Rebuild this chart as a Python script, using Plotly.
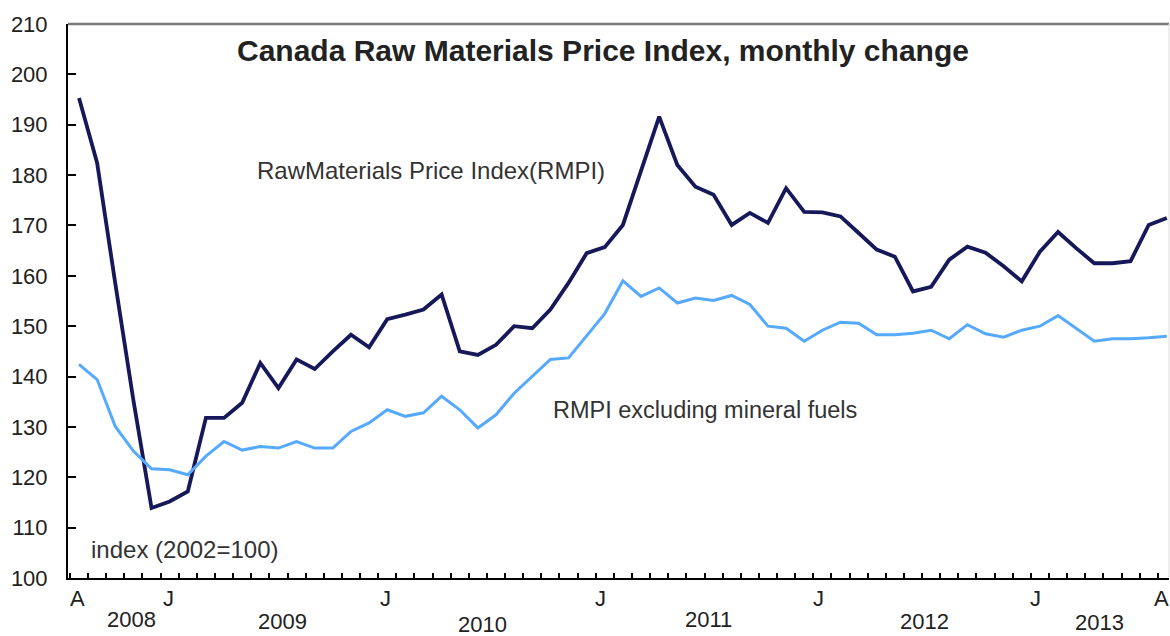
import plotly.graph_objects as go

# ---- data (month index 0..60) ----
month_index = list(range(61))
rmpi = [195.3, 182.4, 158.5, 135.3, 113.9, 115.2, 117.2, 131.8, 131.8, 134.8,
        142.7, 137.7, 143.4, 141.5, 145.0, 148.3, 145.8, 151.4, 152.3, 153.3,
        156.3, 145.0, 144.3, 146.3, 150.0, 149.6, 153.3, 158.6, 164.5, 165.7,
        170.1, 180.8, 191.6, 182.0, 177.7, 176.1, 170.1, 172.5, 170.5, 177.4,
        172.7, 172.6, 171.8, 168.5, 165.2, 163.8, 156.9, 157.8, 163.2, 165.8,
        164.6, 161.9, 158.9, 164.8, 168.7, 165.5, 162.5, 162.5, 162.9, 170.1, 171.5]
rmpi_ex_fuels = [142.4, 139.4, 130.1, 125.2, 121.7, 121.5, 120.5, 124.2, 127.1, 125.4,
                 126.1, 125.8, 127.1, 125.8, 125.8, 129.1, 130.8, 133.4, 132.1, 132.8,
                 136.1, 133.4, 129.8, 132.4, 136.7, 140.0, 143.4, 143.7, 148.0, 152.5,
                 159.0, 155.9, 157.6, 154.6, 155.6, 155.1, 156.1, 154.3, 150.0, 149.6,
                 147.0, 149.2, 150.8, 150.6, 148.3, 148.3, 148.6, 149.2, 147.5, 150.3,
                 148.5, 147.8, 149.2, 150.0, 152.1, 149.6, 147.0, 147.5, 147.5, 147.7, 148.0]

month_labels = ["A", "J", "J", "J", "J", "J", "A"]
month_label_at = [-0.08, 4.91, 16.88, 28.79, 40.76, 52.73, 59.73]
year_labels = ["2008", "2009", "2010", "2011", "2012", "2013"]
year_label_at = [2.87, 11.2, 22.28, 34.72, 46.61, 56.26]
year_label_drop = [41, 43, 46, 41, 43, 44]  # px below axis (style)

y_ticks = list(range(100, 211, 10))

FONT = "Liberation Sans, Arial, sans-serif"
DARK = "#16185a"
LIGHT = "#55aaff"

fig = go.Figure()
fig.add_trace(go.Scatter(x=month_index, y=rmpi, mode="lines",
                         line=dict(color=DARK, width=3.8), name="RMPI"))
fig.add_trace(go.Scatter(x=month_index, y=rmpi_ex_fuels, mode="lines",
                         line=dict(color=LIGHT, width=3), name="RMPI excluding mineral fuels"))

ann = []
for t, xv in zip(month_labels, month_label_at):
    ann.append(dict(x=xv, y=0, xref="x", yref="paper", text=t, showarrow=False,
                    yanchor="middle", yshift=-20, font=dict(family=FONT, size=22, color="#222")))
for t, xv, d in zip(year_labels, year_label_at, year_label_drop):
    ann.append(dict(x=xv, y=0, xref="x", yref="paper", text=t, showarrow=False,
                    yanchor="middle", yshift=-d, font=dict(family=FONT, size=22, color="#222")))

ann.append(dict(x=0.486, y=204.8, xref="paper", yref="y",
                text="<b>Canada Raw Materials Price Index, monthly change</b>",
                showarrow=False, font=dict(family=FONT, size=30, color="#222")))
ann.append(dict(x=19.4, y=181.0, xref="x", yref="y", text="RawMaterials Price Index(RMPI)",
                showarrow=False, font=dict(family=FONT, size=24, color="#333")))
ann.append(dict(x=34.5, y=133.4, xref="x", yref="y", text="RMPI excluding mineral fuels",
                showarrow=False, font=dict(family=FONT, size=23.5, color="#333")))
ann.append(dict(x=5.8, y=105.7, xref="x", yref="y", text="index (2002=100)",
                showarrow=False, font=dict(family=FONT, size=24, color="#333")))

fig.update_layout(
    width=1170, height=636,
    margin=dict(l=68, r=1, t=24, b=57.5),
    paper_bgcolor="white", plot_bgcolor="white",
    showlegend=False,
    annotations=ann,
    shapes=[
        dict(type="line", xref="paper", yref="paper", x0=0, x1=1, y0=1, y1=1,
             line=dict(color="#7a7a7a", width=2.5)),
        dict(type="line", xref="paper", yref="paper", x0=1, x1=1, y0=0, y1=1,
             line=dict(color="#dddddd", width=1)),
    ],
)
fig.update_xaxes(range=[-0.607, 60.12], showgrid=False, zeroline=False,
                 showline=True, linecolor="black", linewidth=2,
                 showticklabels=False, ticks="",
                 minor=dict(tick0=-0.5, dtick=1, ticks="inside", ticklen=5,
                            tickcolor="black", tickwidth=1.5, showgrid=False))
fig.update_yaxes(range=[100, 210], tickvals=y_ticks, showgrid=False, zeroline=False,
                 showline=True, linecolor="black", linewidth=2,
                 ticks="inside", ticklen=8, tickcolor="black", tickwidth=1.5,
                 ticklabelstandoff=14,
                 tickfont=dict(family=FONT, size=22, color="#222"))

fig.write_html("out.html")
